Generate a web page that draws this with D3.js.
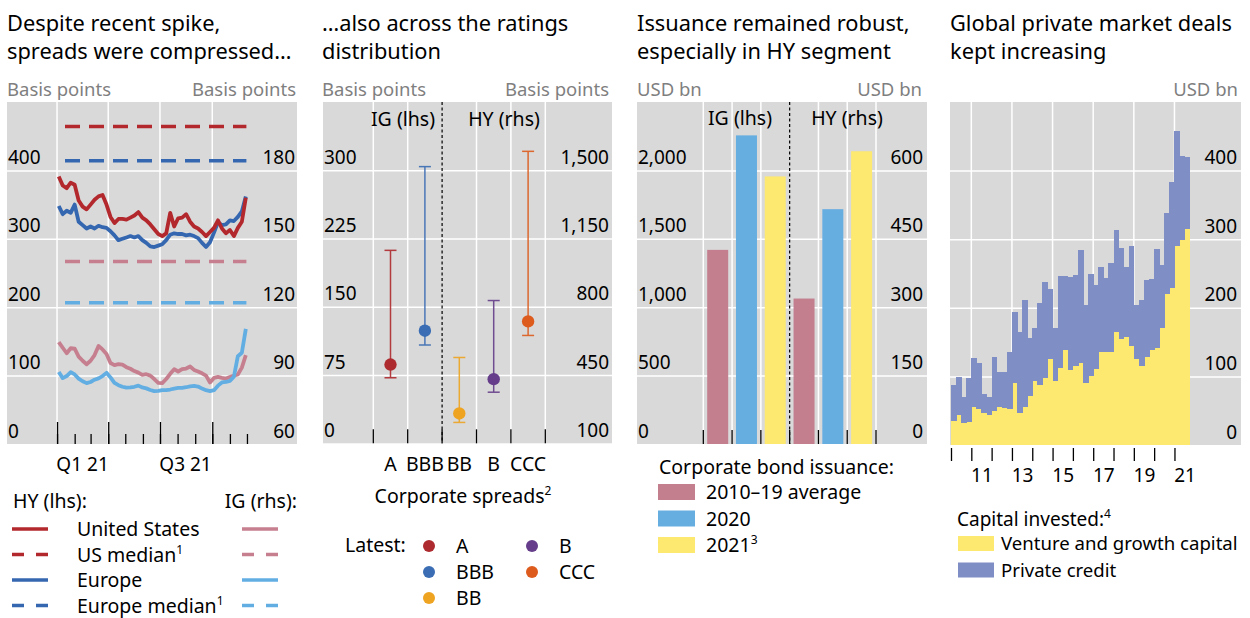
<!DOCTYPE html>
<html>
<head>
<meta charset="utf-8">
<script src="https://cdnjs.cloudflare.com/ajax/libs/d3/7.8.5/d3.min.js"></script>
<style>
body { margin: 0; background: #fff; }
text { font-family: "Noto Sans", sans-serif; }
</style>
</head>
<body>
<div id="chart"></div>
<script>
// ---- panel 1: HY / IG spreads, weekly 2021 ----
var weeks = ["2021-01-04","2021-01-11","2021-01-18","2021-01-25","2021-02-01","2021-02-08","2021-02-15","2021-02-22",
    "2021-03-01","2021-03-08","2021-03-15","2021-03-22","2021-03-29","2021-04-05","2021-04-12","2021-04-19",
    "2021-04-26","2021-05-03","2021-05-10","2021-05-17","2021-05-24","2021-05-31","2021-06-07","2021-06-14",
    "2021-06-21","2021-06-28","2021-07-05","2021-07-12","2021-07-19","2021-07-26","2021-08-02","2021-08-09",
    "2021-08-16","2021-08-23","2021-08-30","2021-09-06","2021-09-13","2021-09-20","2021-09-27","2021-10-04",
    "2021-10-11","2021-10-18","2021-10-25","2021-11-01","2021-11-08","2021-11-15","2021-11-22","2021-11-29"];
var usHY = [391,378,374,382,379,356,347,343,350,357,362,364,350,332,323,329,329,328,331,334,339,331,327,321,
    314,307,304,308,338,318,330,331,336,325,318,315,310,304,310,316,327,315,308,313,304,316,325,360];
var euHY = [348,336,341,338,350,325,320,315,318,315,319,317,316,311,305,298,300,302,304,302,304,298,294,289,
    288,290,292,298,306,308,307,307,305,306,304,301,294,288,295,309,324,320,321,327,326,332,340,362];
var usIG = [104.7,102.2,99.8,102,101.8,98.3,96.5,95,96.5,99,103,101.5,99.5,95.5,94.6,95,94.8,93.7,93,92,91.3,90.3,90.6,90,
    88.5,86.8,86.7,88.5,90.8,92.8,91.8,92.8,93.1,94,92.5,91.8,91,90,87,89,89.4,89,88.7,89.4,90,90.5,93.5,99];
var euIG = [91.6,88.9,89.8,91.5,90.5,88.7,87.5,86.7,87.2,88.2,88.8,89.8,91.2,89.2,86.8,85.8,85.1,84.7,84.8,85.1,85.6,84.8,84.4,83.7,
    83.2,83.3,83.6,83.6,83.9,84.3,84.6,84.6,84.9,85.3,85.5,85.2,84.3,83.6,83.2,83.6,85.6,87,87.2,87.7,89.5,98.5,100,110.5];
var medianSpan = ["2021-01-15","2021-11-30"];
var usHYMedian = 464, euHYMedian = 414, usIGMedian = 140, euIGMedian = 122;

// ---- panel 2: spreads by rating ----
var ratings = ["A","BBB","BB","B","CCC"];
var spreadLatest = [86.5,123.7,253,429,725];
var spreadLow = [72,108,207,362,653];
var spreadHigh = [212,304,540,832,1597];

// ---- panel 3: bond issuance ----
var issuanceGroups = ["IG","HY"];
var issuanceSeries = ["2010–19 average","2020","2021"];
var issuanceIG = [1419,2256,1956];
var issuanceHY = [319,515,642];

// ---- panel 4: private market deals, quarterly ----
var quarters = ["2010Q1","2010Q2","2010Q3","2010Q4","2011Q1","2011Q2","2011Q3","2011Q4","2012Q1","2012Q2","2012Q3","2012Q4",
    "2013Q1","2013Q2","2013Q3","2013Q4","2014Q1","2014Q2","2014Q3","2014Q4","2015Q1","2015Q2","2015Q3","2015Q4",
    "2016Q1","2016Q2","2016Q3","2016Q4","2017Q1","2017Q2","2017Q3","2017Q4","2018Q1","2018Q2","2018Q3","2018Q4",
    "2019Q1","2019Q2","2019Q3","2019Q4","2020Q1","2020Q2","2020Q3","2020Q4","2021Q1","2021Q2","2021Q3"];
var ventureGrowth = [35,43.5,32,33,55,52,46,43.5,49,55,54,52,91,46,56,71,94,87,97,125,93,112,139,110,
    115,119,91,100,111,135,136,135,164,155,158,144,125,115,129,139,142,170,220,229,290,299,315];
var privateCredit = [52,55.5,38,64,72,68,29,26.5,80,52,52,83,103,118,156,85,77,120,141,103,78,134,107,135,
    133,165,113,149,122,124,108,130,149,132,101,146,79,97,112,103,144,92,118,155,168,123,105];

var svg = d3.select("#chart").append("svg")
            .attr("width", 1250)
            .attr("height", 618);

var GRAY = "#d9d9d9",
    UNIT = "#7f7f7f",
    TICK_FS = "19px",
    LEG_FS = "19.5px";
var parseDay = d3.timeParse("%Y-%m-%d");

function title(x, lines) {
    lines.forEach(function(t, i){
        svg.append("text").attr("x", x).attr("y", 31 + i*28)
            .style("font-size", "21.8px").text(t);
    });
}
function unit(x, anchor, t) {
    svg.append("text").attr("x", x).attr("y", 96)
        .attr("text-anchor", anchor)
        .style("font-size", "18.5px").style("fill", UNIT).text(t);
}
function background(x0, x1, yt, yb) {
    svg.append("rect").attr("x", x0).attr("y", yt)
        .attr("width", x1 - x0).attr("height", yb - yt)
        .style("fill", GRAY);
}
function hGrid(scale, ticks, x0, x1) {
    var g = svg.append("g").attr("transform", "translate(" + x0 + ",0)")
        .call(d3.axisRight(scale).tickValues(ticks).tickSize(x1 - x0).tickFormat(""));
    g.select(".domain").remove();
    g.selectAll("line").style("stroke", "#fff").style("stroke-width", 1.5);
}
function vGrid(xs, yt, yb) {
    svg.append("g").selectAll("line").data(xs).enter().append("line")
        .attr("x1", function(d){ return d; }).attr("x2", function(d){ return d; })
        .attr("y1", yt).attr("y2", yb)
        .style("stroke", "#fff").style("stroke-width", 1.5);
}
function yLabels(scale, ticks, x, side, fmt) {
    var axis = side === "left" ? d3.axisRight(scale) : d3.axisLeft(scale);
    var g = svg.append("g").attr("transform", "translate(" + x + ",0)")
        .call(axis.tickValues(ticks).tickSize(0).tickPadding(0).tickFormat(fmt || d3.format(",")));
    g.select(".domain").remove();
    g.selectAll("text").attr("dy", "-0.36em")
        .style("font-size", TICK_FS).style("fill", "#000")
        .style("font-family", "'Noto Sans', sans-serif");
}
function dividerLine(x, yt, yb) {
    svg.append("line").attr("x1", x).attr("x2", x).attr("y1", yt).attr("y2", yb)
        .style("stroke", "#000").style("stroke-width", 1.2)
        .style("stroke-dasharray", "3,2.5");
}
function bottomTicks(xs, yb, len) {
    svg.append("g").selectAll("line").data(xs).enter().append("line")
        .attr("x1", function(d){ return d; }).attr("x2", function(d){ return d; })
        .attr("y1", yb - len).attr("y2", yb)
        .style("stroke", "#000").style("stroke-width", 1.3);
}
function sup(textSel, main, s) {
    textSel.append("tspan").text(main);
    textSel.append("tspan").attr("dy", -8).style("font-size", "12px").text(s);
}

// ================= PANEL 1 =================
(function(){
    var x0 = 7, x1 = 297, yt = 102, yb = 444;
    title(7, ["Despite recent spike,", "spreads were compressed…"]);
    unit(7, "start", "Basis points");
    unit(296, "end", "Basis points");
    background(x0, x1, yt, yb);

    var x = d3.scaleTime().domain([new Date(2020, 9, 5), new Date(2022, 1, 27)]).range([x0, x1]);
    var yL = d3.scaleLinear().domain([0, 500]).range([yb, yt]);
    var yR = d3.scaleLinear().domain([60, 210]).range([yb, yt]);

    hGrid(yL, [100, 200, 300, 400], x0, x1);
    var quarterStarts = [new Date(2021,0,1), new Date(2021,3,1), new Date(2021,6,1), new Date(2021,9,1)];
    vGrid(quarterStarts.map(x), yt, yb);

    var months = d3.timeMonth.range(new Date(2021,0,1), new Date(2021,11,2));
    var gMinor = svg.append("g").attr("transform", "translate(0," + yb + ")")
        .call(d3.axisBottom(x).tickValues(months).tickSize(-10).tickFormat(""));
    var gMajor = svg.append("g").attr("transform", "translate(0," + yb + ")")
        .call(d3.axisBottom(x).tickValues(quarterStarts).tickSize(-22).tickFormat(""));
    [gMinor, gMajor].forEach(function(g){
        g.select(".domain").remove();
        g.selectAll("line").style("stroke", "#000").style("stroke-width", 1.3);
    });

    var gLab = svg.append("g").attr("transform", "translate(0," + yb + ")")
        .call(d3.axisBottom(x).tickValues([new Date(2021,1,14), new Date(2021,7,14)]).tickSize(0)
              .tickFormat(function(d){ return d.getMonth() < 6 ? "Q1 21" : "Q3 21"; }));
    gLab.select(".domain").remove();
    gLab.selectAll("text").attr("y", 27).attr("dy", 0)
        .style("font-size", TICK_FS).style("fill", "#000")
        .style("font-family", "'Noto Sans', sans-serif");

    yLabels(yL, [0, 100, 200, 300, 400], 8, "left");
    yLabels(yR, [60, 90, 120, 150, 180], 295, "right");

    var span = medianSpan.map(parseDay);
    function median(scale, v, color) {
        svg.append("line").attr("x1", x(span[0])).attr("x2", x(span[1]))
            .attr("y1", scale(v)).attr("y2", scale(v))
            .style("stroke", color).style("stroke-width", 3.5)
            .style("stroke-dasharray", "15,9");
    }
    median(yL, usHYMedian, "#b3282d");
    median(yL, euHYMedian, "#3467b0");
    median(yR, usIGMedian, "#c67f8f");
    median(yR, euIGMedian, "#62aee3");

    function series(vals, scale, color) {
        var pts = weeks.map(function(d, i){ return [parseDay(d), vals[i]]; });
        svg.append("path").datum(pts)
            .attr("d", d3.line().x(function(d){ return x(d[0]); }).y(function(d){ return scale(d[1]); }))
            .style("fill", "none").style("stroke", color)
            .style("stroke-width", 3.8).style("stroke-linejoin", "round");
    }
    series(usIG, yR, "#c67f8f");
    series(euIG, yR, "#62aee3");
    series(euHY, yL, "#3467b0");
    series(usHY, yL, "#b3282d");

    // legend
    svg.append("text").attr("x", 13).attr("y", 508).style("font-size", LEG_FS).text("HY (lhs):");
    svg.append("text").attr("x", 297).attr("y", 508).attr("text-anchor", "end").style("font-size", LEG_FS).text("IG (rhs):");
    var rows = [
        {label: "United States", sup: "", hy: "#b3282d", ig: "#c67f8f", dash: false},
        {label: "US median", sup: "1", hy: "#b3282d", ig: "#c67f8f", dash: true},
        {label: "Europe", sup: "", hy: "#3467b0", ig: "#62aee3", dash: false},
        {label: "Europe median", sup: "1", hy: "#3467b0", ig: "#62aee3", dash: true}
    ];
    rows.forEach(function(r, i){
        var y = 529 + i*25.5;
        [[12, r.hy], [242, r.ig]].forEach(function(s){
            svg.append("line").attr("x1", s[0]).attr("x2", s[0] + 36).attr("y1", y).attr("y2", y)
                .style("stroke", s[1]).style("stroke-width", 3.5)
                .style("stroke-dasharray", r.dash ? "12,12" : null);
        });
        var t = svg.append("text").attr("x", 77).attr("y", y + 7).style("font-size", LEG_FS);
        if (r.sup) sup(t, r.label, r.sup); else t.text(r.label);
    });
})();

// ================= PANEL 2 =================
(function(){
    var x0 = 323, x1 = 612, yt = 102, yb = 443.3;
    title(322, ["…also across the ratings", "distribution"]);
    unit(322, "start", "Basis points");
    unit(609, "end", "Basis points");
    background(x0, x1, yt, yb);

    var xb = d3.scaleBand().domain(ratings).range([373.3, 545.3]);
    var yL = d3.scaleLinear().domain([0, 375]).range([yb, yt]);
    var yR = d3.scaleLinear().domain([100, 1850]).range([yb, yt]);

    hGrid(yL, [75, 150, 225, 300], x0, x1);
    var edges = ratings.map(function(d){ return xb(d); }).concat([xb.range()[1]]);
    vGrid(edges.filter(function(d, i){ return i !== 2; }), yt, yb);
    dividerLine(edges[2], yt, yb);
    bottomTicks(edges, yb, 14);

    yLabels(yL, [0, 75, 150, 225, 300], 324, "left");
    yLabels(yR, [100, 450, 800, 1150, 1500], 609, "right");

    svg.append("text").attr("x", 403).attr("y", 126).attr("text-anchor", "middle").style("font-size", LEG_FS).text("IG (lhs)");
    svg.append("text").attr("x", 504).attr("y", 126).attr("text-anchor", "middle").style("font-size", LEG_FS).text("HY (rhs)");

    var colors = ["#ad2b2f", "#3a6db3", "#eea321", "#653d8a", "#dd5b1d"];
    ratings.forEach(function(r, i){
        var sc = i < 2 ? yL : yR;
        var cx = xb(r) + xb.bandwidth()/2;
        var g = svg.append("g").style("stroke", colors[i]).style("stroke-width", 1.5).style("opacity", 0.9);
        g.append("line").attr("x1", cx).attr("x2", cx).attr("y1", sc(spreadLow[i])).attr("y2", sc(spreadHigh[i]));
        g.append("line").attr("x1", cx - 6).attr("x2", cx + 6).attr("y1", sc(spreadLow[i])).attr("y2", sc(spreadLow[i]));
        g.append("line").attr("x1", cx - 6).attr("x2", cx + 6).attr("y1", sc(spreadHigh[i])).attr("y2", sc(spreadHigh[i]));
        svg.append("circle").attr("cx", cx).attr("cy", sc(spreadLatest[i])).attr("r", 6.2)
            .style("fill", colors[i]);
    });

    var gx = svg.append("g").attr("transform", "translate(0," + yb + ")")
        .call(d3.axisBottom(xb).tickSize(0).tickPadding(0));
    gx.select(".domain").remove();
    gx.selectAll("text").attr("y", 28).attr("dy", 0)
        .style("font-size", LEG_FS).style("fill", "#000")
        .style("font-family", "'Noto Sans', sans-serif");

    var ct = svg.append("text").attr("x", 463).attr("y", 503).attr("text-anchor", "middle").style("font-size", LEG_FS);
    sup(ct, "Corporate spreads", "2");

    svg.append("text").attr("x", 345).attr("y", 552).style("font-size", LEG_FS).text("Latest:");
    var pos = [[429, 546], [429, 572], [429, 598], [532, 546], [532, 572]];
    ratings.forEach(function(r, i){
        svg.append("circle").attr("cx", pos[i][0]).attr("cy", pos[i][1]).attr("r", 6).style("fill", colors[i]);
        svg.append("text").attr("x", pos[i][0] + 27).attr("y", pos[i][1] + 7).style("font-size", LEG_FS).text(r);
    });
})();

// ================= PANEL 3 =================
(function(){
    var x0 = 637, x1 = 927, yt = 102, yb = 444;
    title(637, ["Issuance remained robust,", "especially in HY segment"]);
    unit(637, "start", "USD bn");
    unit(922, "end", "USD bn");
    background(x0, x1, yt, yb);

    var xg = d3.scaleBand().domain(issuanceGroups).range([703.3, 876]);
    var xs = d3.scaleBand().domain(issuanceSeries).range([0, xg.bandwidth()]).paddingInner(0.27).paddingOuter(0.135);
    var yL = d3.scaleLinear().domain([0, 2500]).range([yb, yt]);
    var yR = d3.scaleLinear().domain([0, 750]).range([yb, yt]);

    hGrid(yL, [500, 1000, 1500, 2000], x0, x1);
    var step = xs.step();
    var edges = [];
    issuanceGroups.forEach(function(g){
        issuanceSeries.forEach(function(s){ edges.push(xg(g) + xs(s) - (step - xs.bandwidth())/2); });
    });
    edges.push(xg.range()[1]);
    vGrid(edges.filter(function(d, i){ return i !== 3; }), yt, yb);

    yLabels(yL, [0, 500, 1000, 1500, 2000], 638, "left");
    yLabels(yR, [0, 150, 300, 450, 600], 923, "right");

    var colors = ["#c47f8f", "#67aee0", "#fde870"];
    var vals = {IG: issuanceIG, HY: issuanceHY};
    issuanceGroups.forEach(function(g){
        var sc = g === "IG" ? yL : yR;
        svg.append("g").selectAll("rect").data(vals[g]).enter().append("rect")
            .attr("x", function(d, i){ return xg(g) + xs(issuanceSeries[i]); })
            .attr("y", function(d){ return sc(d); })
            .attr("width", xs.bandwidth())
            .attr("height", function(d){ return yb - sc(d); })
            .style("fill", function(d, i){ return colors[i]; });
    });
    dividerLine(edges[3], yt, yb);
    bottomTicks(edges, yb, 14);

    svg.append("text").attr("x", 740).attr("y", 125).attr("text-anchor", "middle").style("font-size", LEG_FS).text("IG (lhs)");
    svg.append("text").attr("x", 847).attr("y", 125).attr("text-anchor", "middle").style("font-size", LEG_FS).text("HY (rhs)");

    svg.append("text").attr("x", 659).attr("y", 474).style("font-size", LEG_FS).text("Corporate bond issuance:");
    issuanceSeries.forEach(function(s, i){
        var y = 484 + i*26.5;
        svg.append("rect").attr("x", 658).attr("y", y).attr("width", 37).attr("height", 16).style("fill", colors[i]);
        var t = svg.append("text").attr("x", 706).attr("y", y + 15).style("font-size", LEG_FS);
        if (i === 2) sup(t, s, "3"); else t.text(s);
    });
})();

// ================= PANEL 4 =================
(function(){
    var x0 = 950, x1 = 1241, yt = 102, yb = 445;
    title(950, ["Global private market deals", "kept increasing"]);
    unit(1238, "end", "USD bn");
    background(x0, x1, yt, yb);

    var x = d3.scaleLinear().domain([2010, 2024.3]).range([951, 1241.5]);
    var y = d3.scaleLinear().domain([0, 500]).range([yb, yt]);

    hGrid(y, [100, 200, 300, 400], x0, x1);
    vGrid([2011, 2013, 2015, 2017, 2019, 2021].map(x), yt, yb);

    var rows = quarters.map(function(q, i){
        return {t: +q.slice(0, 4) + (+q.slice(5) - 1)/4, vg: ventureGrowth[i], pc: privateCredit[i]};
    });
    var stack = d3.stack().keys(["vg", "pc"])(rows);
    var colors = ["#fde970", "#7f8ec4"];
    var w = x(2010.25) - x(2010);
    stack.forEach(function(layer, li){
        svg.append("g").attr("shape-rendering", "crispEdges")
            .selectAll("rect").data(layer).enter().append("rect")
            .attr("x", function(d){ return x(d.data.t); })
            .attr("y", function(d){ return y(d[1]); })
            .attr("width", w + 0.6)
            .attr("height", function(d){ return y(d[0]) - y(d[1]); })
            .style("fill", colors[li]);
    });

    yLabels(y, [0, 100, 200, 300, 400], 1237, "right");

    var gt = svg.append("g").attr("transform", "translate(0," + (yb + 3) + ")")
        .call(d3.axisBottom(x).tickValues(d3.range(2010, 2022)).tickSize(13).tickFormat(""));
    gt.select(".domain").remove();
    gt.selectAll("line").style("stroke", "#000").style("stroke-width", 1.3);

    var gl = svg.append("g").attr("transform", "translate(0," + yb + ")")
        .call(d3.axisBottom(x).tickValues([2011.5, 2013.5, 2015.5, 2017.5, 2019.5, 2021.5]).tickSize(0)
              .tickFormat(function(d){ return String(Math.floor(d)).slice(2); }));
    gl.select(".domain").remove();
    gl.selectAll("text").attr("y", 37).attr("dy", 0)
        .style("font-size", TICK_FS).style("fill", "#000")
        .style("font-family", "'Noto Sans', sans-serif");

    var ct = svg.append("text").attr("x", 957).attr("y", 526).style("font-size", "19px");
    sup(ct, "Capital invested:", "4");
    ["Venture and growth capital", "Private credit"].forEach(function(s, i){
        var yy = 536 + i*26.5;
        svg.append("rect").attr("x", 958).attr("y", yy).attr("width", 36).attr("height", 15).style("fill", colors[i]);
        svg.append("text").attr("x", 1001).attr("y", yy + 14).style("font-size", "18.6px").text(s);
    });
})();
</script>
</body>
</html>
